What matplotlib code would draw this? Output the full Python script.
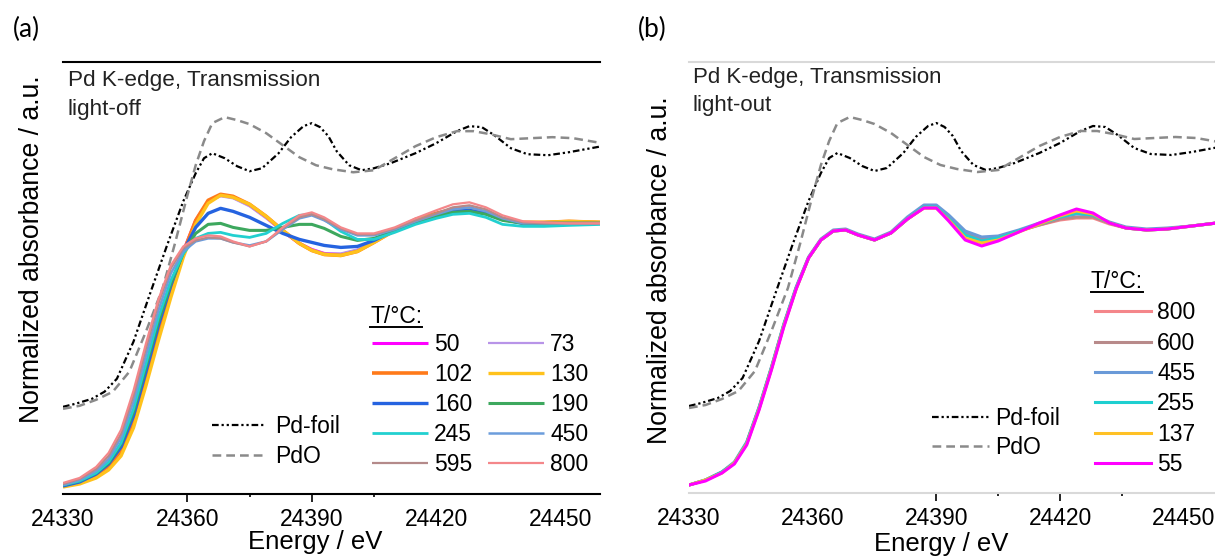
import matplotlib.pyplot as plt

plt.rcParams["font.family"] = ["Liberation Sans", "DejaVu Sans"]

# reference spectra (energy in eV, normalized absorbance with offset)
E_FOIL = [24330, 24333, 24337, 24340, 24343, 24347, 24351, 24355, 24359, 24362,
          24364, 24366, 24369, 24372, 24375, 24378, 24382, 24385, 24388, 24390,
          24392, 24394, 24396, 24399, 24402, 24405, 24409, 24415, 24420, 24425,
          24428, 24431, 24434, 24438, 24442, 24447, 24452, 24460]
PD_FOIL = [0.87, 0.90, 0.95, 1.02, 1.15, 1.52, 2.00, 2.47, 2.92, 3.20,
           3.35, 3.40, 3.35, 3.27, 3.22, 3.25, 3.40, 3.56, 3.67, 3.70,
           3.66, 3.57, 3.42, 3.28, 3.23, 3.25, 3.30, 3.40, 3.50, 3.62,
           3.67, 3.66, 3.58, 3.45, 3.39, 3.38, 3.41, 3.47]

E_PDO = [24330, 24334, 24338, 24342, 24346, 24350, 24354, 24357, 24360, 24362,
         24364, 24366, 24369, 24372, 24375, 24379, 24383, 24387, 24391, 24395,
         24400, 24405, 24410, 24415, 24420, 24425, 24429, 24433, 24438, 24443,
         24448, 24453, 24460]
PDO = [0.85, 0.88, 0.94, 1.02, 1.22, 1.62, 2.05, 2.50, 2.98, 3.28,
       3.52, 3.70, 3.76, 3.73, 3.69, 3.60, 3.48, 3.36, 3.28, 3.24,
       3.21, 3.23, 3.35, 3.47, 3.56, 3.62, 3.62, 3.59, 3.54, 3.55,
       3.56, 3.55, 3.50]

# (a) light-off
E_A = [24330, 24334, 24338, 24341, 24344, 24347, 24350, 24353, 24356, 24359,
       24362, 24365, 24368, 24371, 24375, 24379, 24383, 24387, 24390, 24393,
       24397, 24401, 24405, 24410, 24415, 24420, 24424, 24428, 24432, 24436,
       24441, 24446, 24452, 24460]
MU_A_50 = [0.08, 0.12, 0.19, 0.28, 0.44, 0.74, 1.18, 1.63, 2.04, 2.42,
           2.73, 2.92, 2.98, 2.96, 2.88, 2.76, 2.62, 2.50, 2.44, 2.40,
           2.39, 2.43, 2.52, 2.64, 2.74, 2.80, 2.84, 2.85, 2.81, 2.74,
           2.70, 2.70, 2.71, 2.70]
MU_A_73 = [0.08, 0.12, 0.19, 0.28, 0.44, 0.74, 1.18, 1.63, 2.04, 2.42,
           2.73, 2.92, 2.97, 2.95, 2.87, 2.75, 2.62, 2.50, 2.44, 2.40,
           2.40, 2.44, 2.53, 2.64, 2.74, 2.80, 2.84, 2.85, 2.81, 2.74,
           2.70, 2.70, 2.71, 2.70]
MU_A_102 = [0.08, 0.12, 0.19, 0.28, 0.43, 0.72, 1.15, 1.60, 2.02, 2.41,
            2.73, 2.93, 2.99, 2.97, 2.89, 2.77, 2.63, 2.50, 2.43, 2.39,
            2.38, 2.42, 2.51, 2.63, 2.74, 2.80, 2.84, 2.85, 2.81, 2.74,
            2.71, 2.71, 2.72, 2.71]
MU_A_130 = [0.07, 0.10, 0.16, 0.24, 0.38, 0.66, 1.08, 1.53, 1.96, 2.36,
            2.69, 2.90, 2.98, 2.96, 2.89, 2.77, 2.63, 2.50, 2.43, 2.39,
            2.38, 2.42, 2.51, 2.63, 2.73, 2.79, 2.83, 2.84, 2.80, 2.74,
            2.71, 2.71, 2.72, 2.71]
MU_A_160 = [0.08, 0.12, 0.20, 0.30, 0.47, 0.78, 1.22, 1.68, 2.08, 2.42,
            2.66, 2.80, 2.85, 2.82, 2.76, 2.68, 2.60, 2.54, 2.51, 2.48,
            2.46, 2.47, 2.53, 2.63, 2.72, 2.78, 2.82, 2.83, 2.80, 2.74,
            2.70, 2.70, 2.70, 2.70]
MU_A_190 = [0.09, 0.13, 0.21, 0.31, 0.50, 0.82, 1.27, 1.72, 2.10, 2.40,
            2.60, 2.69, 2.70, 2.66, 2.63, 2.63, 2.66, 2.69, 2.69, 2.65,
            2.57, 2.53, 2.55, 2.63, 2.71, 2.77, 2.81, 2.82, 2.79, 2.73,
            2.70, 2.70, 2.70, 2.70]
MU_A_245 = [0.09, 0.13, 0.21, 0.32, 0.51, 0.85, 1.30, 1.76, 2.13, 2.40,
            2.55, 2.60, 2.61, 2.58, 2.56, 2.60, 2.70, 2.78, 2.79, 2.74,
            2.62, 2.54, 2.54, 2.61, 2.69, 2.75, 2.79, 2.80, 2.76, 2.69,
            2.67, 2.67, 2.68, 2.69]
MU_A_450 = [0.09, 0.14, 0.23, 0.35, 0.56, 0.92, 1.38, 1.83, 2.20, 2.42,
            2.52, 2.55, 2.55, 2.51, 2.48, 2.52, 2.64, 2.75, 2.78, 2.73,
            2.64, 2.58, 2.58, 2.64, 2.72, 2.79, 2.84, 2.86, 2.82, 2.75,
            2.70, 2.70, 2.70, 2.70]
MU_A_595 = [0.10, 0.15, 0.25, 0.38, 0.60, 0.98, 1.45, 1.90, 2.25, 2.45,
            2.53, 2.56, 2.55, 2.51, 2.47, 2.52, 2.65, 2.76, 2.79, 2.74,
            2.65, 2.59, 2.59, 2.65, 2.73, 2.80, 2.86, 2.88, 2.84, 2.76,
            2.71, 2.70, 2.70, 2.70]
MU_A_800 = [0.11, 0.16, 0.27, 0.41, 0.64, 1.03, 1.50, 1.94, 2.28, 2.47,
            2.55, 2.58, 2.57, 2.52, 2.47, 2.52, 2.66, 2.78, 2.81, 2.76,
            2.66, 2.60, 2.60, 2.66, 2.75, 2.83, 2.89, 2.91, 2.86, 2.78,
            2.72, 2.71, 2.70, 2.70]

T_A = ["50", "73", "102", "130", "160", "190", "245", "450", "595", "800"]
MU_A = [MU_A_50, MU_A_73, MU_A_102, MU_A_130, MU_A_160,
        MU_A_190, MU_A_245, MU_A_450, MU_A_595, MU_A_800]
COLORS_A = ["#ff00ff", "#b894e8", "#ff7a1a", "#ffc21c", "#2563e0",
            "#3da85e", "#22d0d0", "#6c9ddc", "#b48a8a", "#f4878a"]
LW_A = [2.2, 1.6, 2.6, 2.4, 2.4, 2.2, 2.0, 1.8, 1.6, 1.6]

# (b) light-out
E_B = [24330, 24334, 24338, 24341, 24344, 24347, 24350, 24353, 24356, 24359,
       24362, 24365, 24368, 24371, 24375, 24379, 24383, 24387, 24390, 24393,
       24397, 24401, 24405, 24410, 24415, 24420, 24424, 24428, 24432, 24436,
       24441, 24446, 24452, 24458]
MU_B_800 = [0.08, 0.13, 0.21, 0.30, 0.50, 0.85, 1.25, 1.68, 2.05, 2.35,
            2.53, 2.62, 2.63, 2.58, 2.53, 2.60, 2.74, 2.85, 2.85, 2.75,
            2.60, 2.54, 2.56, 2.62, 2.68, 2.73, 2.75, 2.75, 2.69, 2.65,
            2.63, 2.64, 2.67, 2.70]
MU_B_600 = [0.08, 0.13, 0.21, 0.30, 0.50, 0.85, 1.25, 1.68, 2.05, 2.35,
            2.53, 2.62, 2.63, 2.58, 2.53, 2.60, 2.74, 2.86, 2.86, 2.75,
            2.60, 2.54, 2.56, 2.62, 2.68, 2.74, 2.76, 2.76, 2.70, 2.65,
            2.63, 2.64, 2.67, 2.70]
MU_B_455 = [0.08, 0.13, 0.21, 0.31, 0.51, 0.86, 1.26, 1.69, 2.06, 2.36,
            2.54, 2.63, 2.64, 2.59, 2.54, 2.61, 2.76, 2.88, 2.88, 2.78,
            2.62, 2.56, 2.57, 2.63, 2.70, 2.76, 2.79, 2.78, 2.71, 2.66,
            2.64, 2.65, 2.67, 2.70]
MU_B_255 = [0.08, 0.13, 0.21, 0.30, 0.50, 0.85, 1.25, 1.68, 2.05, 2.35,
            2.53, 2.62, 2.63, 2.58, 2.53, 2.60, 2.74, 2.86, 2.86, 2.74,
            2.58, 2.52, 2.55, 2.62, 2.69, 2.76, 2.80, 2.78, 2.70, 2.65,
            2.63, 2.64, 2.67, 2.70]
MU_B_137 = [0.08, 0.13, 0.20, 0.30, 0.49, 0.84, 1.24, 1.67, 2.04, 2.35,
            2.53, 2.62, 2.63, 2.58, 2.53, 2.60, 2.74, 2.85, 2.85, 2.73,
            2.55, 2.50, 2.53, 2.61, 2.69, 2.77, 2.82, 2.79, 2.70, 2.65,
            2.63, 2.64, 2.67, 2.70]
MU_B_55 = [0.08, 0.12, 0.20, 0.29, 0.48, 0.83, 1.23, 1.66, 2.04, 2.35,
           2.53, 2.62, 2.63, 2.58, 2.53, 2.60, 2.74, 2.85, 2.85, 2.72,
           2.53, 2.47, 2.52, 2.61, 2.70, 2.78, 2.84, 2.80, 2.70, 2.65,
           2.63, 2.64, 2.67, 2.70]

T_B = ["800", "600", "455", "255", "137", "55"]
MU_B = [MU_B_800, MU_B_600, MU_B_455, MU_B_255, MU_B_137, MU_B_55]
COLORS_B = ["#f4868a", "#b88a8a", "#6a9ad8", "#1ecfd0", "#ffc125", "#ff00ff"]

FOIL_DASH = (3.0, 1.3, 1.0, 1.3, 1.0, 1.3)
PDO_DASH = (3.5, 2.0)
FS = 16.5

fig = plt.figure(figsize=(12.15, 5.58), dpi=100)
W, H = 1215, 558


def px_axes(x0, y0, x1, y1):
    return fig.add_axes([x0 / W, 1 - y1 / H, (x1 - x0) / W, (y1 - y0) / H])


def style_axes(ax, spine_color, xlim, shown_major, minor):
    for side in ("left", "right"):
        ax.spines[side].set_visible(False)
    for side in ("top", "bottom"):
        ax.spines[side].set_color(spine_color)
        ax.spines[side].set_linewidth(1.5)
    ax.set_xlim(*xlim)
    ax.set_ylim(0, 4.31)
    ax.set_yticks([])
    ax.set_xticks([24330, 24360, 24390, 24420, 24450])
    ax.set_xticks(minor, minor=True)
    ax.tick_params(axis="x", which="major", direction="out", length=6,
                   width=1.2, pad=4, labelsize=FS, color="black")
    ax.tick_params(axis="x", which="minor", direction="out", length=2,
                   width=1.2, color="black")
    for val, tick in zip(ax.get_xticks(), ax.xaxis.get_major_ticks()):
        if val not in shown_major:
            tick.tick1line.set_visible(False)
    ax.set_xlabel("Energy / eV", fontsize=18.5)
    ax.set_ylabel("Normalized absorbance / a.u.", fontsize=19.2)


def underlined(ax, x, y, s, gap_px=4):
    t = ax.text(x, y, s, transform=ax.transAxes, fontsize=FS,
                ha="left", va="baseline")
    fig.canvas.draw()
    bb = t.get_window_extent()
    inv = ax.transAxes.inverted()
    (x0, _), (x1, _) = inv.transform([(bb.x0, 0), (bb.x1, 0)])
    yb = ax.transAxes.transform((0, y))[1] - gap_px
    yl = inv.transform((0, yb))[1]
    ax.plot([x0, x1], [yl, yl], transform=ax.transAxes, color="black",
            lw=1.4, clip_on=False)


def ref_curves(ax):
    foil, = ax.plot(E_FOIL, PD_FOIL, color="black", lw=1.6, dashes=FOIL_DASH)
    pdo, = ax.plot(E_PDO, PDO, color="#8a8a8a", lw=1.8, dashes=PDO_DASH)
    return foil, pdo


# ---- panel (a)
ax_a = px_axes(63, 62, 600, 494)
style_axes(ax_a, "black", (24330, 24459.5), [24360, 24390], [24375, 24405])
ax_a.xaxis.set_label_coords(0.47, -0.083)
ax_a.yaxis.set_label_coords(-0.034, 0.567)
foil_a, pdo_a = ref_curves(ax_a)
lines_a = []
for mu, col, lw in zip(MU_A, COLORS_A, LW_A):
    ln, = ax_a.plot(E_A, mu, color=col, lw=lw, solid_capstyle="butt")
    lines_a.append(ln)

ax_a.text(0.009, 0.958, "Pd K-edge, Transmission", transform=ax_a.transAxes,
          fontsize=16.2, va="center", ha="left", color="#222222")
ax_a.text(0.009, 0.889, "light-off", transform=ax_a.transAxes,
          fontsize=16.2, va="center", ha="left", color="#222222")

leg_ref_a = ax_a.legend([foil_a, pdo_a], ["Pd-foil", "PdO"], loc="upper left",
                        bbox_to_anchor=(0.2775, 0.182), frameon=False,
                        fontsize=FS, handlelength=2.35, handletextpad=0.4,
                        labelspacing=0.3, borderpad=0, borderaxespad=0)
ax_a.add_artist(leg_ref_a)

order = [0, 2, 4, 6, 8, 1, 3, 5, 7, 9]
ax_a.legend([lines_a[i] for i in order], [T_A[i] for i in order],
            loc="upper left", ncol=2, bbox_to_anchor=(0.575, 0.372),
            frameon=False, fontsize=FS, handlelength=2.45,
            handletextpad=0.26, columnspacing=0.7, labelspacing=0.3,
            borderpad=0, borderaxespad=0)
underlined(ax_a, 0.572, 0.396, "T/°C:")

# ---- panel (b)
ax_b = px_axes(689, 62, 1215, 493)
style_axes(ax_b, "#d9d9d9", (24330, 24457.6), [24390, 24420], [24405, 24435])
ax_b.xaxis.set_label_coords(0.479, -0.09)
ax_b.yaxis.set_label_coords(-0.03, 0.517)
foil_b, pdo_b = ref_curves(ax_b)
lines_b = []
for mu, col in zip(MU_B, COLORS_B):
    ln, = ax_b.plot(E_B, mu, color=col, lw=2.2)
    lines_b.append(ln)

ax_b.text(0.0076, 0.965, "Pd K-edge, Transmission", transform=ax_b.transAxes,
          fontsize=16.0, va="center", ha="left", color="#222222")
ax_b.text(0.0076, 0.898, "light-out", transform=ax_b.transAxes,
          fontsize=16.0, va="center", ha="left", color="#222222")

leg_ref_b = ax_b.legend([foil_b, pdo_b], ["Pd-foil", "PdO"], loc="upper left",
                        bbox_to_anchor=(0.462, 0.2), frameon=False,
                        fontsize=FS, handlelength=2.5, handletextpad=0.25,
                        labelspacing=0.25, borderpad=0, borderaxespad=0)
ax_b.add_artist(leg_ref_b)
ax_b.legend(lines_b, T_B, loc="upper left", bbox_to_anchor=(0.772, 0.445),
            frameon=False, fontsize=FS, handlelength=2.45, handletextpad=0.26,
            labelspacing=0.32, borderpad=0, borderaxespad=0)
underlined(ax_b, 0.764, 0.476, "T/°C:")

# panel letters
fig.text(13 / W, 1 - 29 / H, "(a)", fontsize=19, family=["Lato", "DejaVu Sans"],
         va="center", ha="left")
fig.text(638 / W, 1 - 29 / H, "(b)", fontsize=19, family=["Lato", "DejaVu Sans"],
         va="center", ha="left")

fig.savefig("out.png", dpi=100)
